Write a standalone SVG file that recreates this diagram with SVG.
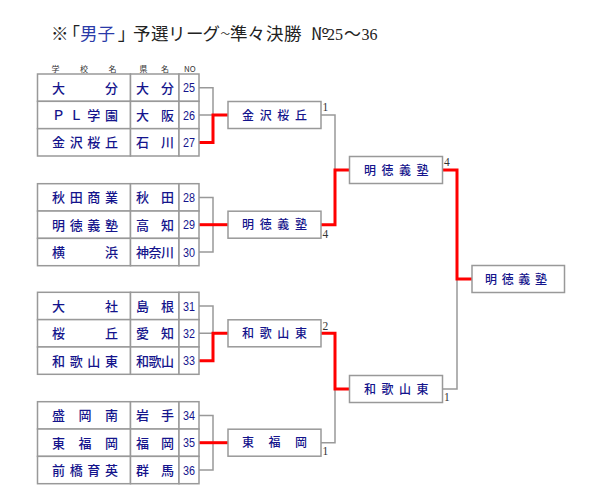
<svg xmlns="http://www.w3.org/2000/svg" width="600" height="500" viewBox="0 0 600 500">
<style>
.cell{fill:#fff;stroke:#999;stroke-width:1.5}
.nm{font-family:"Noto Sans CJK JP",sans-serif;font-size:13px;fill:#14148c;font-weight:500}
.no{font-family:"Liberation Sans",sans-serif;font-size:13px;fill:#14148c}
.hd{font-family:"Noto Sans CJK JP",sans-serif;font-size:8px;fill:#333}
.box{fill:#fff;stroke:#999;stroke-width:1.5}
.bx{font-family:"Noto Sans CJK JP",sans-serif;font-size:12px;fill:#14148c;font-weight:500}
.ln{fill:none;stroke:#999;stroke-width:1.5}
.win{fill:none;stroke:#f00;stroke-width:3}
.sc{font-family:"Liberation Serif",serif;font-size:11.5px;fill:#333}
.tt{font-family:"Noto Sans CJK JP",sans-serif;font-size:17.5px;fill:#222}
.pa{font-feature-settings:"palt"}
.dg{font-family:"Liberation Serif",serif;font-size:16px}
</style>
<rect width="600" height="500" fill="#fff"/>
<g id="title">
<text class="tt" y="40"><tspan x="51">※</tspan><tspan x="71" class="pa">「</tspan><tspan x="80" fill="#2a3aa8">男</tspan><tspan x="97.5" fill="#2a3aa8">子</tspan><tspan x="118" class="pa">」</tspan><tspan x="133">予</tspan><tspan x="151">選</tspan><tspan x="168">リ</tspan><tspan x="186">ー</tspan><tspan x="202.5">グ</tspan><tspan x="220.5" y="36.7" font-size="9.5">～</tspan><tspan x="230" y="40">準</tspan><tspan x="247.5">々</tspan><tspan x="266">決</tspan><tspan x="284">勝</tspan><tspan x="311">№</tspan><tspan x="327" class="dg">25</tspan><tspan x="344" font-size="17">～</tspan><tspan x="361.5" class="dg" font-size="15.5">36</tspan></text>
</g>
<g id="header">
<text class="hd" y="71.5" x="51.5 80 108.5">学校名</text>
<text class="hd" y="71.5" x="139.5 161">県名</text>
<text class="hd" y="71.5" x="184" font-family="Liberation Sans,sans-serif">NO</text>
</g>
<g id="connectors">
<path class="ln" d="M199,87.7H213V142.4M199,115H213"/>
<path class="ln" d="M199,197.4H213V252.1H199"/>
<path class="ln" d="M199,306H213V360.7M199,333.3H213"/>
<path class="ln" d="M199,415.4H213V470.1H199"/>
<path class="ln" d="M321,115H335V224.7"/>
<path class="ln" d="M321,442.7H335V333.3"/>
<path class="ln" d="M442.5,389H457V279"/>
<path class="win" d="M199,142.4H213V115H228"/>
<path class="win" d="M199,224.7H228"/>
<path class="win" d="M199,360.7H213V333.3H228"/>
<path class="win" d="M199,442.7H228"/>
<path class="win" d="M321,224.7H335V170H349.5"/>
<path class="win" d="M321,333.3H335V389H350"/>
<path class="win" d="M442.5,170H457V279H472"/>
</g>
<g id="team-25"><rect class="cell" x="37.5" y="74" width="93" height="27.33"/><rect class="cell" x="130.5" y="74" width="48.5" height="27.33"/><rect class="cell" x="179" y="74" width="20" height="27.33"/>
<text class="nm" y="92.6" x="52 105">大分</text><text class="nm" y="92.6" x="136 161">大分</text><text class="no" y="92.4" x="183" textLength="12" lengthAdjust="spacingAndGlyphs">25</text></g>
<g id="team-26"><rect class="cell" x="37.5" y="101.33" width="93" height="27.33"/><rect class="cell" x="130.5" y="101.33" width="48.5" height="27.33"/><rect class="cell" x="179" y="101.33" width="20" height="27.33"/>
<text class="nm" y="119.9" x="52 69.7 87.3 105">ＰＬ学園</text><text class="nm" y="119.9" x="136 161">大阪</text><text class="no" y="119.7" x="183" textLength="12" lengthAdjust="spacingAndGlyphs">26</text></g>
<g id="team-27"><rect class="cell" x="37.5" y="128.67" width="93" height="27.33"/><rect class="cell" x="130.5" y="128.67" width="48.5" height="27.33"/><rect class="cell" x="179" y="128.67" width="20" height="27.33"/>
<text class="nm" y="147.3" x="52 69.7 87.3 105">金沢桜丘</text><text class="nm" y="147.3" x="136 161">石川</text><text class="no" y="147.1" x="183" textLength="12" lengthAdjust="spacingAndGlyphs">27</text></g>
<g id="team-28"><rect class="cell" x="37.5" y="183.7" width="93" height="27.33"/><rect class="cell" x="130.5" y="183.7" width="48.5" height="27.33"/><rect class="cell" x="179" y="183.7" width="20" height="27.33"/>
<text class="nm" y="202.3" x="52 69.7 87.3 105">秋田商業</text><text class="nm" y="202.3" x="136 161">秋田</text><text class="no" y="202.1" x="183" textLength="12" lengthAdjust="spacingAndGlyphs">28</text></g>
<g id="team-29"><rect class="cell" x="37.5" y="211.03" width="93" height="27.33"/><rect class="cell" x="130.5" y="211.03" width="48.5" height="27.33"/><rect class="cell" x="179" y="211.03" width="20" height="27.33"/>
<text class="nm" y="229.6" x="52 69.7 87.3 105">明徳義塾</text><text class="nm" y="229.6" x="136 161">高知</text><text class="no" y="229.4" x="183" textLength="12" lengthAdjust="spacingAndGlyphs">29</text></g>
<g id="team-30"><rect class="cell" x="37.5" y="238.37" width="93" height="27.33"/><rect class="cell" x="130.5" y="238.37" width="48.5" height="27.33"/><rect class="cell" x="179" y="238.37" width="20" height="27.33"/>
<text class="nm" y="257" x="52 105">横浜</text><text class="nm" y="257" x="136 148.5 161">神奈川</text><text class="no" y="256.8" x="183" textLength="12" lengthAdjust="spacingAndGlyphs">30</text></g>
<g id="team-31"><rect class="cell" x="37.5" y="292.3" width="93" height="27.33"/><rect class="cell" x="130.5" y="292.3" width="48.5" height="27.33"/><rect class="cell" x="179" y="292.3" width="20" height="27.33"/>
<text class="nm" y="310.9" x="52 105">大社</text><text class="nm" y="310.9" x="136 161">島根</text><text class="no" y="310.7" x="183" textLength="12" lengthAdjust="spacingAndGlyphs">31</text></g>
<g id="team-32"><rect class="cell" x="37.5" y="319.63" width="93" height="27.33"/><rect class="cell" x="130.5" y="319.63" width="48.5" height="27.33"/><rect class="cell" x="179" y="319.63" width="20" height="27.33"/>
<text class="nm" y="338.2" x="52 105">桜丘</text><text class="nm" y="338.2" x="136 161">愛知</text><text class="no" y="338" x="183" textLength="12" lengthAdjust="spacingAndGlyphs">32</text></g>
<g id="team-33"><rect class="cell" x="37.5" y="346.97" width="93" height="27.33"/><rect class="cell" x="130.5" y="346.97" width="48.5" height="27.33"/><rect class="cell" x="179" y="346.97" width="20" height="27.33"/>
<text class="nm" y="365.6" x="52 69.7 87.3 105">和歌山東</text><text class="nm" y="365.6" x="136 148.5 161">和歌山</text><text class="no" y="365.4" x="183" textLength="12" lengthAdjust="spacingAndGlyphs">33</text></g>
<g id="team-34"><rect class="cell" x="37.5" y="401.7" width="93" height="27.33"/><rect class="cell" x="130.5" y="401.7" width="48.5" height="27.33"/><rect class="cell" x="179" y="401.7" width="20" height="27.33"/>
<text class="nm" y="420.3" x="52 78.5 105">盛岡南</text><text class="nm" y="420.3" x="136 161">岩手</text><text class="no" y="420.1" x="183" textLength="12" lengthAdjust="spacingAndGlyphs">34</text></g>
<g id="team-35"><rect class="cell" x="37.5" y="429.03" width="93" height="27.33"/><rect class="cell" x="130.5" y="429.03" width="48.5" height="27.33"/><rect class="cell" x="179" y="429.03" width="20" height="27.33"/>
<text class="nm" y="447.6" x="52 78.5 105">東福岡</text><text class="nm" y="447.6" x="136 161">福岡</text><text class="no" y="447.4" x="183" textLength="12" lengthAdjust="spacingAndGlyphs">35</text></g>
<g id="team-36"><rect class="cell" x="37.5" y="456.37" width="93" height="27.33"/><rect class="cell" x="130.5" y="456.37" width="48.5" height="27.33"/><rect class="cell" x="179" y="456.37" width="20" height="27.33"/>
<text class="nm" y="475" x="52 69.7 87.3 105">前橋育英</text><text class="nm" y="475" x="136 161">群馬</text><text class="no" y="474.8" x="183" textLength="12" lengthAdjust="spacingAndGlyphs">36</text></g>
<g id="r2-1"><rect class="box" x="228" y="101.5" width="93" height="27"/><text class="bx" y="119.5" x="242 259.7 277.3 295">金沢桜丘</text><text class="sc" x="322.5" y="111">1</text></g>
<g id="r2-2"><rect class="box" x="228" y="211.2" width="93" height="27"/><text class="bx" y="229.2" x="242 259.7 277.3 295">明徳義塾</text><text class="sc" x="322.5" y="237.5">4</text></g>
<g id="r2-3"><rect class="box" x="228" y="319.8" width="93" height="27"/><text class="bx" y="337.8" x="242 259.7 277.3 295">和歌山東</text><text class="sc" x="322.5" y="330">2</text></g>
<g id="r2-4"><rect class="box" x="228" y="429.2" width="93" height="27"/><text class="bx" y="447.2" x="242 268.5 295">東福岡</text><text class="sc" x="322.5" y="455">1</text></g>
<g id="r3-1"><rect class="box" x="349.5" y="156.5" width="93" height="27"/><text class="bx" y="174.5" x="364 381.5 399 416.5">明徳義塾</text><text class="sc" x="444" y="166">4</text></g>
<g id="r3-2"><rect class="box" x="349.5" y="375.5" width="93" height="27"/><text class="bx" y="393.5" x="364 381.5 399 416.5">和歌山東</text><text class="sc" x="444" y="401">1</text></g>
<g id="final"><rect class="box" x="472" y="265.5" width="92.5" height="27"/><text class="bx" y="283.5" x="485 501.7 518.3 535">明徳義塾</text></g>
</svg>
